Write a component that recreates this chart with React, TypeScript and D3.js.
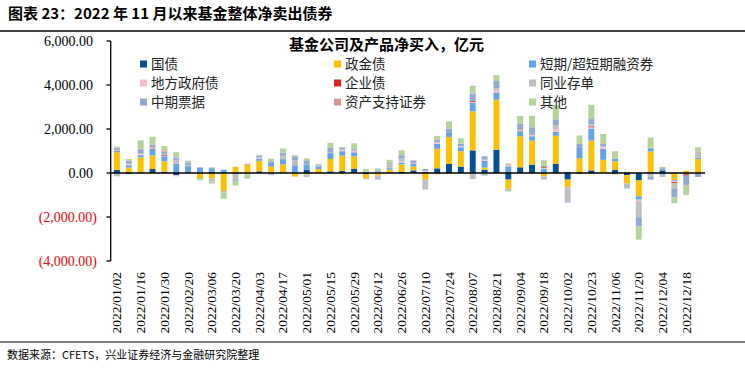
import React from 'react';
import * as d3 from 'd3';

// weekly dates (two holiday weeks missing)
const dates = [
  '2022/01/02', '2022/01/09', '2022/01/16', '2022/01/23', '2022/01/30', '2022/02/13', '2022/02/20', '2022/02/27',
  '2022/03/06', '2022/03/13', '2022/03/20', '2022/03/27', '2022/04/03', '2022/04/10', '2022/04/17', '2022/04/24',
  '2022/05/01', '2022/05/08', '2022/05/15', '2022/05/22', '2022/05/29', '2022/06/05', '2022/06/12', '2022/06/19',
  '2022/06/26', '2022/07/03', '2022/07/10', '2022/07/17', '2022/07/24', '2022/07/31', '2022/08/07', '2022/08/14',
  '2022/08/21', '2022/08/28', '2022/09/04', '2022/09/11', '2022/09/18', '2022/09/25', '2022/10/02', '2022/10/16',
  '2022/10/23', '2022/10/30', '2022/11/06', '2022/11/13', '2022/11/20', '2022/11/27', '2022/12/04', '2022/12/11',
  '2022/12/18', '2022/12/25',
];

const seriesNames = ['国债', '政金债', '短期/超短期融资券', '地方政府债', '企业债', '同业存单', '中期票据', '资产支持证券', '其他'];
const seriesColors = ['#054F9A', '#FFC000', '#64A4E6', '#F9BDC8', '#E02424', '#BFBFBF', '#93A9D3', '#D99694', '#B5D39A'];

// 亿元
const guozhai = [140, -40, 30, 180, 60, -90, 10, 0, 60, 0, -30, 0, 75, 0, 20, 0, 150, 0, 75, 90, 200, -60, 0, 0, 60, 120, 0, 210, 410, 290, 1030, 150, 1060, -300, 260, 380, 0, 420, -300, 30, 120, 0, 150, -100, -330, 30, 120, 0, 0, 0];
const zhengjin = [800, 250, 680, 620, 470, 0, 0, -230, -250, -830, 280, 380, 480, 300, 380, -160, -70, 180, 560, 700, 560, -180, -120, 150, 330, 180, -300, 890, 1230, 700, 1770, 100, 2270, -420, 1410, 1090, -150, 1270, -350, 640, 1350, 600, 380, -380, -730, 950, 0, -330, 100, 640];
const duanrong = [60, 100, 100, 290, 230, 420, 300, 240, 160, 150, 0, 0, 90, 150, 230, 350, 230, 120, 270, 200, 180, 60, 0, 70, 80, 120, 60, 230, 180, 180, 380, 300, 330, 300, 230, 200, 200, 180, 50, 470, 550, 500, 130, 0, -150, 150, -80, -50, -60, 50];
const difang = [40, 30, 40, 30, 30, -60, -30, 0, 0, 0, 0, 0, 30, 0, 0, 0, 0, 0, 20, 30, 60, 0, 0, 0, 40, 30, 40, 60, 0, 40, 60, 60, 120, 60, 60, 60, 40, 130, 0, 0, 60, 80, 0, 0, -70, 40, 0, -30, 0, 0];
const qiye = [10, 0, 0, 10, 30, 0, 0, 0, 0, 0, 0, 0, 0, 0, 0, 0, 0, 0, 0, 0, 0, 0, 0, 0, 0, 0, 0, 0, 0, 0, 40, 0, 0, 0, 20, 0, 30, 0, 0, 0, 40, 0, 0, 0, 0, 0, 0, -40, -60, 0];
const tongye = [-150, 50, 60, 50, 50, 180, 60, 0, -130, 0, -300, -70, 40, -100, 150, 230, -110, 80, 0, 60, 60, -50, -180, 300, 150, 0, -450, -60, -40, 0, -270, -120, 70, -120, 0, 0, -150, 180, -640, -50, 80, 40, -60, -120, -730, -180, -100, -250, 0, 300];
const zhongpiao = [80, 110, 170, 100, 100, 100, 100, 20, 0, -50, -40, 0, 60, 80, 150, 180, 200, 0, 240, 60, 60, 0, 80, 0, 150, 120, 80, 120, 200, 130, 330, 150, 330, 0, 270, 350, 60, 260, -50, 180, 250, 100, 0, -60, -410, -120, 100, -400, -420, -180];
const abs = [20, 20, 20, 20, 60, 10, 10, 0, 30, 0, 0, 40, 15, 0, 0, 0, 0, 0, 0, 0, 0, 0, 0, 0, 0, 0, 0, 20, 0, 0, 0, 0, 0, 0, 0, 0, 0, 0, 0, 0, 0, 0, 0, 50, 0, 0, 0, 0, -40, 0];
const qita = [50, 80, 380, 350, 200, 240, 80, -100, -100, -290, -200, -180, 40, 120, 180, 50, 90, 40, 200, 40, 230, 120, 130, 80, 220, 0, 0, 150, 320, 240, 360, 0, 270, 80, 350, 520, 250, 650, 0, 380, 650, 450, 330, -50, -610, 440, 60, -270, -420, 180];

const seriesValues = [guozhai, zhengjin, duanrong, difang, qiye, tongye, zhongpiao, abs, qita];
const yTicks = [-4000, -2000, 0, 2000, 4000, 6000];

const W = 745;
const H = 368;
const cjk = '"Noto Sans CJK SC", sans-serif';
const num = '"Liberation Serif", "Times New Roman", serif';

const App = () => {
  const rows = dates.map((d, i) => {
    const r: any = {date: d};
    seriesNames.forEach((s, k) => (r[s] = seriesValues[k][i]));
    return r;
  });
  const stacked = d3.stack().keys(seriesNames).offset(d3.stackOffsetDiverging)(rows);

  const x = d3.scaleBand().domain(dates).range([111, 704]).paddingInner(0.5).paddingOuter(0.25);
  const y = d3.scaleLinear().domain([-4000, 6000]).range([261, 41]);

  // accounting style tick text
  const fmt = (v: number) => {
    const s = d3.format(',.2f')(Math.abs(v));
    return v < 0 ? '(' + s + ')' : s;
  };

  // legend, 3 columns filled row by row
  const legendCols = [140, 334, 529];
  const legendRows = [64, 83, 102];

  return (
    <svg width={W} height={H} style={{position: 'absolute', left: 0, top: 0, background: '#fff'}}>
      <text x={8} y={19} fontFamily={cjk} fontWeight={700} fontSize={15} fill="#000">
        图表 23：2022 年 11 月以来基金整体净卖出债券
      </text>
      <line x1={0} x2={W} y1={31} y2={31} stroke="#000" strokeWidth={1.5} />

      {/* bars */}
      {stacked.map((layer, k) => (
        <g key={layer.key} fill={seriesColors[k]}>
          {layer.map((d, i) => {
            const h = Math.abs(y(d[0]) - y(d[1]));
            if (h < 0.01) return null;
            return (
              <rect
                key={i}
                x={x(dates[i])}
                y={Math.min(y(d[0]), y(d[1]))}
                width={x.bandwidth()}
                height={h}
              />
            );
          })}
        </g>
      ))}

      {/* y axis */}
      <line x1={110.7} x2={110.7} y1={y(6000)} y2={y(-4000)} stroke="#000" strokeWidth={1.3} />
      {yTicks.map((t) => (
        <g key={t}>
          <line x1={106.5} x2={110.7} y1={y(t)} y2={y(t)} stroke="#000" strokeWidth={1.3} />
          <text
            x={t < 0 ? 97 : 93}
            y={y(t)}
            dy="0.35em"
            textAnchor="end"
            fontFamily={num}
            fontSize={14}
            fill={t < 0 ? '#FF0000' : '#000'}
          >
            {fmt(t)}
          </text>
        </g>
      ))}
      <line x1={110.7} x2={705} y1={y(0)} y2={y(0)} stroke="#000" strokeWidth={1.5} />

      {/* x labels, every second week */}
      {dates.map((d, i) =>
        i % 2 === 0 ? (
          <text
            key={d}
            transform={`translate(${x(d)! + x.bandwidth() / 2 + 4.5},272) rotate(-90)`}
            textAnchor="end"
            fontFamily={num}
            fontSize={13.5}
            fill="#000"
          >
            {d}
          </text>
        ) : null,
      )}

      {/* chart title */}
      <text x={289} y={50} fontFamily={cjk} fontWeight={700} fontSize={15} fill="#000">
        基金公司及产品净买入，亿元
      </text>

      {/* legend */}
      {seriesNames.map((s, k) => {
        const cx = legendCols[k % 3];
        const cy = legendRows[Math.floor(k / 3)];
        return (
          <g key={s}>
            <rect x={cx} y={cy - 3.5} width={7} height={7} fill={seriesColors[k]} />
            <text x={cx + 11} y={cy} dy="0.35em" fontFamily={cjk} fontSize={13.5} fill="#222">
              {s}
            </text>
          </g>
        );
      })}

      <line x1={0} x2={W} y1={342} y2={342} stroke="#000" strokeWidth={1.2} />
      <text x={7} y={359} fontFamily={cjk} fontSize={11} fill="#000">
        数据来源：CFETS，兴业证券经济与金融研究院整理
      </text>
    </svg>
  );
};

export default App;
